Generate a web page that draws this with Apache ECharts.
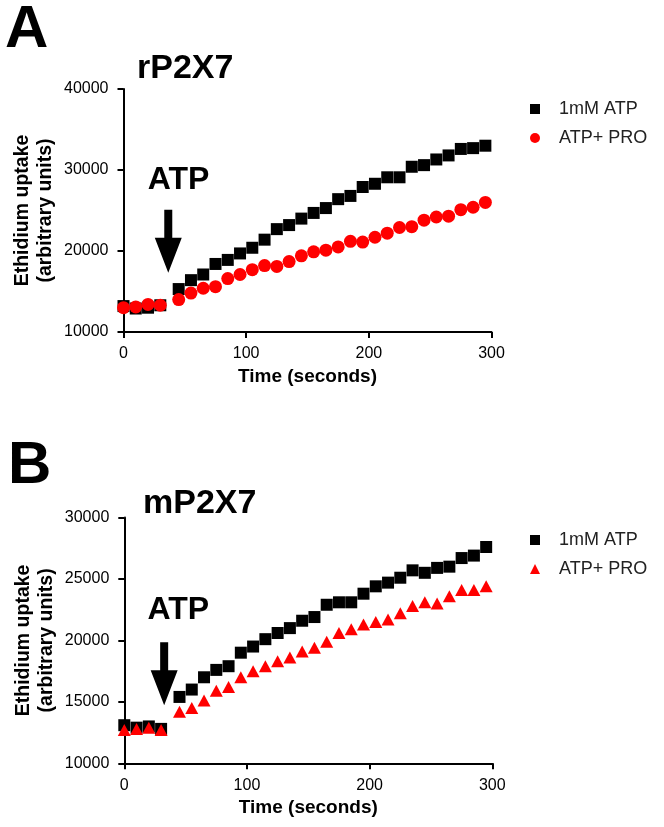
<!DOCTYPE html>
<html>
<head>
<meta charset="utf-8">
<script src="https://cdn.jsdelivr.net/npm/echarts@6/dist/echarts.min.js"></script>
<style>
html,body{margin:0;padding:0;background:#fff;}
#chart{width:664px;height:827px;}
</style>
</head>
<body>
<div id="chart"></div>
<script>
// ---- data ----
var times = [0,10,20,30,45,55,65,75,85,95,105,115,125,135,145,155,165,175,185,195,205,215,225,235,245,255,265,275,285,295];
var atpA = [13200,12900,13000,13300,15300,16400,17100,18400,18900,19700,20400,21400,22700,23200,24000,24700,25300,26400,26800,27900,28300,29100,29100,30400,30600,31300,31800,32600,32700,33000];
var proA = [13000,13100,13400,13300,14000,14800,15400,15600,16600,17100,17700,18200,18100,18700,19400,19900,20100,20500,21200,21100,21700,22200,22900,23000,23800,24200,24300,25100,25400,26000];
var atpB = [13100,12900,13000,12800,15400,16000,17000,17600,17900,19000,19500,20100,20600,21000,21600,21900,22900,23100,23100,23800,24400,24700,25100,25700,25500,25900,26000,26700,26900,27600];
var proB = [12700,12800,12900,12700,14200,14500,15100,15900,16200,17000,17500,17900,18300,18600,19100,19400,19900,20600,20900,21300,21500,21700,22200,22800,23100,23000,23600,24100,24100,24400];
var seriesNames = ['1mM ATP', 'ATP+ PRO'];
var panelLetters = ['A', 'B'];
var panelTitles = ['rP2X7', 'mP2X7'];
var xTicks = {min: 0, max: 300, interval: 100};
var yTicksA = {min: 10000, max: 40000, interval: 10000};
var yTicksB = {min: 10000, max: 30000, interval: 5000};
var arrowA = {t: 36.5, v: 21210, labelT: 44.8, labelV: 28730};
var arrowB = {t: 32.5, v: 17280, labelT: 44, labelV: 22480};

function pairs(xs, ys){ return xs.map(function(x,i){ return [x, ys[i]]; }); }

var FONT = '"Liberation Sans", Arial, Helvetica, sans-serif';
var arrowPath = 'path://M9.5,0 L17.5,0 L17.5,28 L27,28 L13.5,63 L0,28 L9.5,28 Z';
function plain(v){ return String(v); }

function xAxisCfg(gi){
  return {
    type: 'value', gridIndex: gi, min: xTicks.min, max: xTicks.max, interval: xTicks.interval,
    name: 'Time (seconds)', nameLocation: 'middle', nameGap: 35,
    nameTextStyle: {fontFamily: FONT, fontSize: 19, fontWeight: 'bold', color: '#000'},
    axisLine: {show: true, onZero: false, lineStyle: {color: '#000', width: 2}},
    axisTick: {show: true, length: 6, lineStyle: {color: '#000', width: 2}},
    axisLabel: {fontFamily: FONT, fontSize: 16, color: '#000', margin: 14, formatter: plain},
    splitLine: {show: false}
  };
}
function yAxisCfg(gi, t){
  return {
    type: 'value', gridIndex: gi, min: t.min, max: t.max, interval: t.interval,
    name: 'Ethidium uptake\n(arbitrary units)', nameLocation: 'middle', nameGap: 66, nameRotate: 90,
    nameMoveOverlap: false,
    nameTextStyle: {fontFamily: FONT, fontSize: 19.5, fontWeight: 'bold', color: '#000', lineHeight: 23},
    axisLine: {show: true, onZero: false, lineStyle: {color: '#000', width: 2}},
    axisTick: {show: true, length: 6, lineStyle: {color: '#000', width: 2}},
    axisLabel: {fontFamily: FONT, fontSize: 16, color: '#000', margin: 15, formatter: plain},
    splitLine: {show: false}
  };
}
function annot(a){
  return {
    silent: true,
    data: [
      {coord: [a.t, a.v], symbol: arrowPath, symbolSize: [27, 63], symbolKeepAspect: false,
       itemStyle: {color: '#000'}, label: {show: false}},
      {coord: [a.labelT, a.labelV], symbol: 'rect', symbolSize: 1,
       itemStyle: {color: 'rgba(0,0,0,0)'},
       label: {show: true, position: 'inside', formatter: 'ATP', fontFamily: FONT, fontSize: 32, fontWeight: 'bold', color: '#000'}}
    ]
  };
}

var chart = echarts.init(document.getElementById('chart'), null, {renderer: 'canvas'});
chart.setOption({
  animation: false,
  backgroundColor: '#fff',
  graphic: [
    {type: 'text', left: 5, top: 0, style: {text: panelLetters[0], font: 'bold 60px ' + FONT, fill: '#000'}},
    {type: 'text', left: 137, top: 52, style: {text: panelTitles[0], font: 'bold 34px ' + FONT, fill: '#000'}},
    {type: 'text', left: 8, top: 436, style: {text: panelLetters[1], font: 'bold 60px ' + FONT, fill: '#000'}},
    {type: 'text', left: 143, top: 487, style: {text: panelTitles[1], font: 'bold 34px ' + FONT, fill: '#000'}}
  ],
  legend: [
    {orient: 'vertical', left: 525, top: 95, itemWidth: 10, itemHeight: 10, itemGap: 11,
     data: [seriesNames[0], seriesNames[1]],
     textStyle: {fontFamily: FONT, fontSize: 18, color: '#222', padding: [0,0,0,14]},
     selectedMode: false},
    {orient: 'vertical', left: 525, top: 526, itemWidth: 10, itemHeight: 10, itemGap: 11,
     data: [seriesNames[0] + ' ', seriesNames[1] + ' '],
     formatter: function(n){ return n.trim(); },
     textStyle: {fontFamily: FONT, fontSize: 18, color: '#222', padding: [0,0,0,14]},
     selectedMode: false}
  ],
  grid: [
    {left: 123.5, top: 89, width: 368, height: 243},
    {left: 124.3, top: 517.5, width: 368, height: 245.8}
  ],
  xAxis: [xAxisCfg(0), xAxisCfg(1)],
  yAxis: [yAxisCfg(0, yTicksA), yAxisCfg(1, yTicksB)],
  series: [
    {name: seriesNames[0], type: 'scatter', xAxisIndex: 0, yAxisIndex: 0, symbol: 'rect', symbolSize: 12,
     itemStyle: {color: '#000', opacity: 1}, data: pairs(times, atpA), z: 3, markPoint: annot(arrowA)},
    {name: seriesNames[1], type: 'scatter', xAxisIndex: 0, yAxisIndex: 0, symbol: 'circle', symbolSize: 13,
     itemStyle: {color: '#ff0000', opacity: 1}, data: pairs(times, proA), z: 4},
    {name: seriesNames[0] + ' ', type: 'scatter', xAxisIndex: 1, yAxisIndex: 1, symbol: 'rect', symbolSize: 12,
     itemStyle: {color: '#000', opacity: 1}, data: pairs(times, atpB), z: 3, markPoint: annot(arrowB)},
    {name: seriesNames[1] + ' ', type: 'scatter', xAxisIndex: 1, yAxisIndex: 1, symbol: 'triangle', symbolSize: [13, 12],
     itemStyle: {color: '#ff0000', opacity: 1}, data: pairs(times, proB), z: 4}
  ]
});
</script>
</body>
</html>
